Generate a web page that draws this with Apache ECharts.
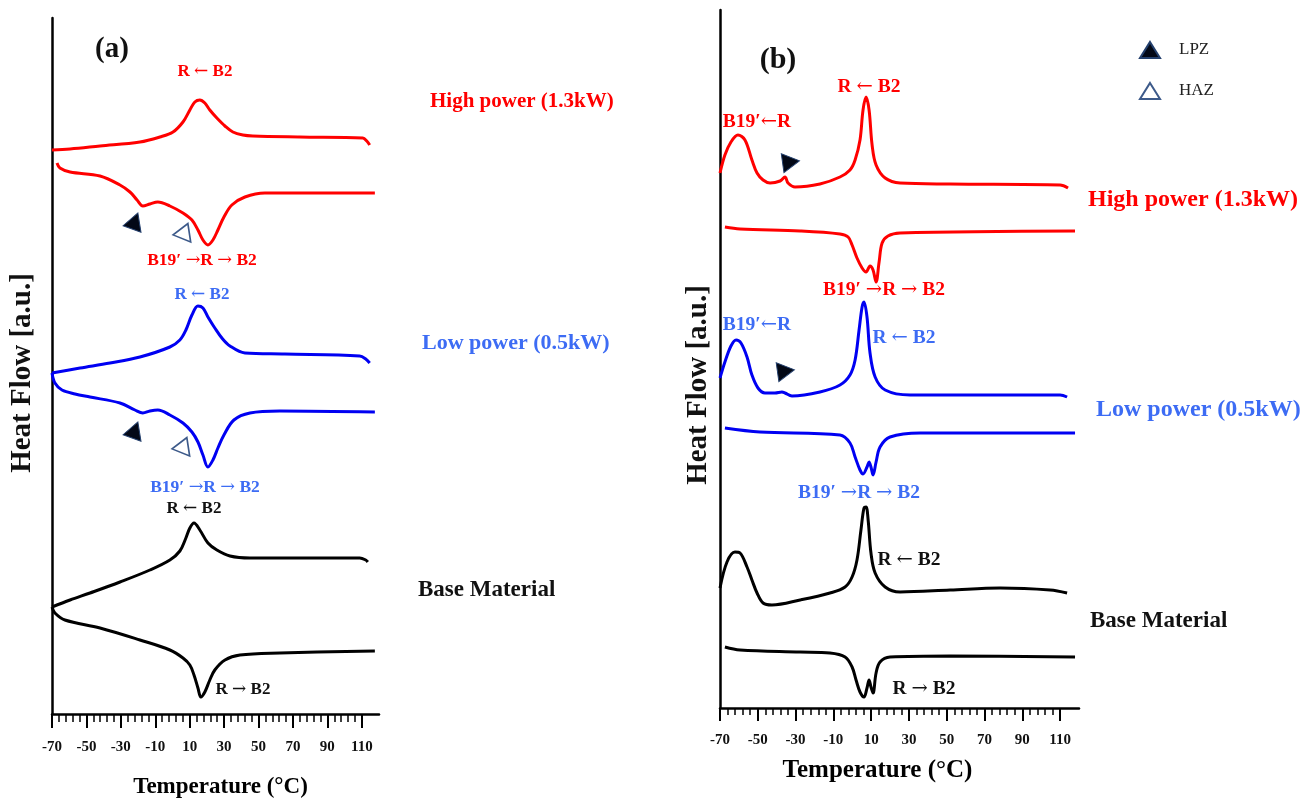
<!DOCTYPE html>
<html>
<head>
<meta charset="utf-8">
<script src="https://cdn.jsdelivr.net/npm/echarts@6/dist/echarts.min.js"></script>
<style>
html,body{margin:0;padding:0;background:#fff;}
#chart{width:1310px;height:807px;}
</style>
</head>
<body>
<div id="chart"></div>
<script>
// ---------- DATA ----------
// Temperature tick labels (°C)
const xTicks = [-70, -50, -30, -10, 10, 30, 50, 70, 90, 110];

// Panel (a): [temperature °C, heat flow a.u.]
const aHighCool = [[-70,564],[-59.5,565],[-42.1,568],[-18.9,572],[-7.3,577],[0.3,582],[6.1,592],[10.1,604],[13.0,612],[15.9,614],[18.8,611],[21.7,604],[25.8,596],[30.5,588],[35.1,582],[40.9,579],[46.7,578],[74,577],[110.6,576],[112.9,573],[114.6,569]];
const aHighHeat = [[-67.1,551],[-65.4,546],[-59.5,542],[-42.1,538],[-30.5,529],[-24.7,522],[-20.6,514],[-17.2,508],[-13.1,510],[-8.5,512],[-1.5,508],[6.1,501],[11.3,494],[14.8,484],[17.7,474],[20.6,469],[23.5,474],[26.4,484],[29.9,497],[34.5,509],[42.1,517],[53.7,521],[85.6,521],[117.6,521]];
const aLowCool = [[-70,341],[-53.7,346],[-36.3,351],[-18.9,357],[-1.5,367],[4.3,374],[7.8,384],[11.3,399],[14.8,408],[17.7,406],[20.6,397],[24.6,386],[28.7,376],[33.4,368],[42.1,361],[65.3,360],[108.8,358],[112.3,355],[114.6,351]];
const aLowHeat = [[-70,341],[-68.3,331],[-64.2,324],[-56.6,320],[-47.9,317],[-30.5,311],[-21.8,304],[-17.2,301],[-13.1,303],[-8.5,304],[-1.5,299],[6.1,291],[11.3,282],[14.8,272],[17.7,259],[20.6,247],[23.5,254],[26.4,266],[29.9,279],[35.7,294],[45,301],[62.4,303],[117.6,302]];
const aBaseCool = [[-70,107],[-59.5,114],[-47.9,121],[-30.5,132],[-13.1,144],[-1.5,154],[4.3,163],[7.8,176],[10.1,186],[12.5,191],[15.9,184],[20.6,171],[25.8,164],[33.4,158],[45,156],[74,156],[108.8,156],[112.3,154],[113.5,152]];
const aBaseHeat = [[-70,107],[-68.3,101],[-62.5,94],[-42.1,86],[-18.9,74],[-1.5,64],[6.1,56],[10.1,49],[12.5,39],[14.8,26],[16.5,17],[18.8,22],[21.7,34],[24.6,44],[30.5,54],[39.2,59],[62.4,61],[117.6,63]];
const aLPZ = [[-21.8,493],[-21.8,284]];
const aHAZ = [[7.2,483],[6.6,269]];

// Panel (b): [temperature °C, heat flow a.u.]
const bHighCool = [[-70,535],[-67.4,553],[-64.2,566],[-60.5,573],[-56.8,568],[-53.1,548],[-50.4,535],[-47.2,528],[-43.5,525],[-38.2,527],[-35.6,531],[-34,525],[-30.3,521],[-17.1,524],[-6.5,531],[-1.2,538],[1.5,548],[4.1,568],[5.7,598],[7.3,611],[8.9,598],[10.5,563],[12.6,543],[17.4,530],[25.3,525],[51.8,524],[110,523],[114.2,520]];
const bHighHeat = [[-67.4,481],[-59.4,479],[-27.6,477],[-6.5,474],[-2.2,471],[-0.1,463],[2.5,450],[5.2,440],[7.3,436],[9.4,442],[11,438],[12.6,426],[14.2,446],[15.8,465],[18.9,472],[25.3,475],[117.9,477]];
const bLowCool = [[-70,330],[-67.4,346],[-64.2,362],[-61.5,368],[-58.9,365],[-55.7,351],[-53.1,333],[-49.9,320],[-46.2,315],[-40.9,315],[-37.2,316],[-35.6,315],[-31.9,312],[-17.1,316],[-6.5,323],[-1.2,333],[1.5,348],[3.6,378],[5.2,401],[6.2,406],[7.8,391],[9.4,355],[12.1,331],[17.4,318],[30.6,313],[110,313],[113.7,311]];
const bLowHeat = [[-67.4,280],[-48.8,276],[-6.5,273],[-1.2,265],[1.5,251],[4.1,238],[5.7,234],[7.8,241],[8.9,246],[9.9,241],[11,233],[12.6,246],[14.7,261],[20,271],[35.9,275],[117.9,275]];
const bBaseCool = [[-70,120],[-66.3,146],[-62.1,156],[-59.4,155],[-55.7,141],[-53.1,128],[-50.4,115],[-47.2,105],[-42.5,103],[-27.6,108],[-11.8,115],[-3.8,121],[-0.1,131],[2.5,148],[4.6,178],[6.2,200],[7.3,201],[8.4,188],[9.9,155],[12.1,135],[17.4,121],[25.3,116],[51.8,118],[78.2,120],[104.7,118],[113.7,115]];
const bBaseHeat = [[-67.4,61],[-59.4,58],[-27.6,56],[-11.8,55],[-3.8,51],[-0.1,41],[2,28],[4.1,16],[6.2,11],[7.8,20],[8.9,28],[9.9,21],[11,15],[12.6,35],[14.7,46],[20,51],[51.8,52],[117.9,51]];
const bLPZ = [[-32.4,546],[-35.1,337]];

// ---------- STYLE ----------
const FONT = '"Liberation Serif", "Times New Roman", serif';
const RED = '#ff0000', BLUE = '#0000f2', BLUE_TXT = '#3d6cf4', BLACK = '#000000';
const minorTicks = [];
for (let v = -70; v <= 110; v += 4) { if ((v + 70) % 20 !== 0) minorTicks.push(v); }

function line(data, color, gi) {
  return { type: 'line', xAxisIndex: gi * 2, yAxisIndex: gi, data: data, smooth: 0.35,
    showSymbol: false, symbol: 'none', lineStyle: { color: color, width: 3 }, z: 3, silent: true };
}
function xMajor(gi, gap, nameFont, namePad, tickLen, margin) {
  return { type: 'value', gridIndex: gi, min: -70, max: 120, position: 'bottom',
    name: 'Temperature (°C)', nameLocation: 'middle', nameGap: gap,
    nameTextStyle: { fontFamily: FONT, fontWeight: 'bold', fontSize: nameFont, color: '#000', padding: namePad },
    axisLine: { show: true, onZero: false, lineStyle: { color: '#000', width: 2.5 } },
    axisTick: { show: true, inside: false, length: tickLen, customValues: xTicks, lineStyle: { color: '#000', width: 2 } },
    axisLabel: { show: true, customValues: xTicks, margin: margin, fontFamily: FONT, fontWeight: 'bold', fontSize: 15, color: '#111' },
    splitLine: { show: false } };
}
function xMinor(gi, tickLen) {
  return { type: 'value', gridIndex: gi, min: -70, max: 120, position: 'bottom',
    axisLine: { show: false, onZero: false },
    axisTick: { show: true, inside: false, length: tickLen, customValues: minorTicks, lineStyle: { color: '#000', width: 1.5 } },
    axisLabel: { show: false }, splitLine: { show: false } };
}
function yAx(gi, max) {
  return { type: 'value', gridIndex: gi, min: 0, max: max,
    axisLine: { show: true, onZero: false, lineStyle: { color: '#000', width: 2.5 } },
    axisTick: { show: false }, axisLabel: { show: false }, splitLine: { show: false } };
}
function txt(x, y, s, color, size, align) {
  const rich = s.replace(/([←→])/g, '{ar|$1}');
  return { type: 'text', x: x, y: y, silent: true,
    style: { text: rich, fill: color, fontFamily: FONT, fontWeight: 'bold', fontSize: size,
      align: align || 'center', verticalAlign: 'middle',
      rich: { ar: { fontFamily: '"DejaVu Serif", serif', fontWeight: 'normal', fontSize: size, fill: color } } } };
}

const LPZ_STYLE = { color: '#030816', borderColor: '#24406e', borderWidth: 1, opacity: 1 };
const HAZ_STYLE = { color: '#ffffff', borderColor: '#3d5a8a', borderWidth: 1.6, opacity: 1 };

const option = {
  animation: false,
  backgroundColor: '#ffffff',
  grid: [
    { left: 52, top: 18, width: 327, height: 696 },
    { left: 720, top: 10, width: 359, height: 698 }
  ],
  xAxis: [ xMajor(0, 62, 23, [0, 0, 0, 10], 14, 26), xMinor(0, 8), xMajor(1, 50, 25, [0, 44, 0, 0], 13, 25), xMinor(1, 7) ],
  yAxis: [ yAx(0, 696), yAx(1, 698) ],
  legend: {
    show: true, orient: 'vertical', left: 1134, top: 36, itemWidth: 20, itemHeight: 16, itemGap: 23,
    symbolRotate: 0, selectedMode: false, data: ['LPZ', 'HAZ'],
    textStyle: { fontFamily: FONT, fontSize: 17, color: '#222', padding: [0, 0, 0, 14] }
  },
  series: [
    line(aHighCool, RED, 0), line(aHighHeat, RED, 0),
    line(aLowCool, BLUE, 0), line(aLowHeat, BLUE, 0),
    line(aBaseCool, BLACK, 0), line(aBaseHeat, BLACK, 0),
    line(bHighCool, RED, 1), line(bHighHeat, RED, 1),
    line(bLowCool, BLUE, 1), line(bLowHeat, BLUE, 1),
    line(bBaseCool, BLACK, 1), line(bBaseHeat, BLACK, 1),
    { name: 'LPZ', type: 'scatter', xAxisIndex: 0, yAxisIndex: 0, data: aLPZ, symbol: 'triangle',
      symbolSize: [19, 17], symbolRotate: -20, z: 5, itemStyle: LPZ_STYLE },
    { name: 'HAZ', type: 'scatter', xAxisIndex: 0, yAxisIndex: 0, data: aHAZ, symbol: 'triangle',
      symbolSize: [19, 16], symbolRotate: -22, z: 5, itemStyle: HAZ_STYLE },
    { name: 'LPZ', type: 'scatter', xAxisIndex: 2, yAxisIndex: 1, data: bLPZ, symbol: 'triangle',
      symbolSize: [19, 17], symbolRotate: -82, z: 5, itemStyle: LPZ_STYLE }
  ],
  graphic: [
    // axis titles
    { type: 'text', x: 23, y: 373, rotation: Math.PI / 2, silent: true,
      style: { text: 'Heat Flow [a.u.]', fill: '#111', fontFamily: FONT, fontWeight: 'bold', fontSize: 29, align: 'center', verticalAlign: 'middle' } },
    { type: 'text', x: 699, y: 385, rotation: Math.PI / 2, silent: true,
      style: { text: 'Heat Flow [a.u.]', fill: '#111', fontFamily: FONT, fontWeight: 'bold', fontSize: 29, align: 'center', verticalAlign: 'middle' } },
    // panel (a)
    txt(112, 50, '(a)', '#111', 29),
    txt(205, 72, 'R ← B2', RED, 17),
    txt(430, 102, 'High power (1.3kW)', RED, 21, 'left'),
    txt(202, 260, 'B19′ →R → B2', RED, 17.5),
    txt(202, 295, 'R ← B2', BLUE_TXT, 17),
    txt(422, 343, 'Low power (0.5kW)', BLUE_TXT, 22, 'left'),
    txt(205, 487, 'B19′ →R → B2', BLUE_TXT, 17.5),
    txt(194, 509, 'R ← B2', '#111', 17),
    txt(418, 590, 'Base Material', '#111', 23, 'left'),
    txt(243, 690, 'R → B2', '#111', 17),
    // panel (b)
    txt(778, 60, '(b)', '#111', 30),
    txt(869, 87, 'R ← B2', RED, 19.5),
    txt(757, 122, 'B19′←R', RED, 19.5),
    txt(1088, 200, 'High power (1.3kW)', RED, 24, 'left'),
    txt(884, 290, 'B19′ →R → B2', RED, 19.5),
    txt(757, 325, 'B19′←R', BLUE_TXT, 19.5),
    txt(904, 338, 'R ← B2', BLUE_TXT, 19.5),
    txt(1096, 410, 'Low power (0.5kW)', BLUE_TXT, 24, 'left'),
    txt(859, 493, 'B19′ →R → B2', BLUE_TXT, 19.5),
    txt(909, 560, 'R ← B2', '#111', 19.5),
    txt(1090, 621, 'Base Material', '#111', 23, 'left'),
    txt(924, 689, 'R → B2', '#111', 19.5)
  ]
};

const chart = echarts.init(document.getElementById('chart'), null, { renderer: 'canvas' });
chart.setOption(option);
</script>
</body>
</html>
